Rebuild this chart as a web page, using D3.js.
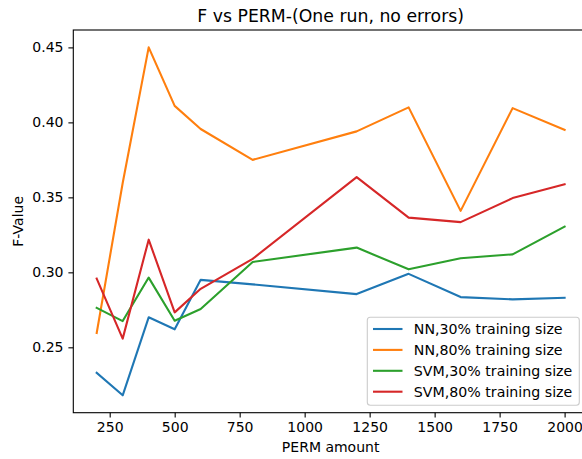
<!DOCTYPE html>
<html>
<head>
<meta charset="utf-8">
<script src="https://cdn.jsdelivr.net/npm/d3@7"></script>
<style>
  body { margin: 0; background: #fff; }
  svg { display: block; font-family: "DejaVu Sans", sans-serif; }
</style>
</head>
<body>
<svg id="Chart"></svg>
<script>
// data
let perm = [200, 300, 400, 500, 600, 800, 1200, 1400, 1600, 1800, 2000]
let nn30 = [0.233, 0.218, 0.270, 0.262, 0.295, 0.292, 0.2855, 0.299, 0.2835, 0.282, 0.283]
let nn80 = [0.2596, 0.3596, 0.450, 0.411, 0.3956, 0.375, 0.394, 0.410, 0.341, 0.4095, 0.395]
let svm30 = [0.2763, 0.2675, 0.2965, 0.2677, 0.2755, 0.3069, 0.3165, 0.302, 0.3094, 0.312, 0.3305]
let svm80 = [0.2958, 0.2558, 0.3218, 0.2733, 0.289, 0.309, 0.3635, 0.3365, 0.3335, 0.3495, 0.3587]
let seriesNames = ["NN,30% training size", "NN,80% training size", "SVM,30% training size", "SVM,80% training size"]
let seriesColors = ["#1f77b4", "#ff7f0e", "#2ca02c", "#d62728"]
let xTicks = [250, 500, 750, 1000, 1250, 1500, 1750, 2000]
let yTicks = [0.25, 0.30, 0.35, 0.40, 0.45]

function getConfig() {
  let width = 582, height = 459
  let margin = { top: 30, left: 73.3, right: 588, bottom: 412.7 } // box edges, right one falls off the page
  let container = d3.select("#Chart").attr("width", width).attr("height", height)
  return { width, height, margin, container }
}

function getScales(config) {
  let { margin } = config
  // matplotlib adds 5% margins on each side
  let xScale = d3.scaleLinear().domain([110, 2090]).range([margin.left, margin.right])
  let yMin = 0.218, yMax = 0.45, pad = (yMax - yMin) * 0.05
  let yScale = d3.scaleLinear().domain([yMin - pad, yMax + pad]).range([margin.bottom, margin.top])
  return { xScale, yScale }
}

function drawAxes(config, scales) {
  let { container, margin } = config
  let { xScale, yScale } = scales

  let axisX = d3.axisBottom(xScale).tickValues(xTicks).tickSize(4.9).tickPadding(4.9).tickFormat(d3.format("d"))
  let gx = container.append("g")
    .attr("transform", `translate(0,${margin.bottom})`)
    .call(axisX)
  let axisY = d3.axisLeft(yScale).tickValues(yTicks).tickSize(4.9).tickPadding(4.9).tickFormat(d3.format(".2f"))
  let gy = container.append("g")
    .attr("transform", `translate(${margin.left},0)`)
    .call(axisY)

  ;[gx, gy].forEach(g => {
    g.select(".domain").remove()
    g.selectAll("line").attr("stroke", "#000").attr("stroke-width", 1.1)
    g.selectAll("text").attr("fill", "#000").style("font-size", "14px").style("font-family", "DejaVu Sans")
  })

  // spines
  container.append("rect")
    .attr("x", margin.left).attr("y", margin.top)
    .attr("width", margin.right - margin.left).attr("height", margin.bottom - margin.top)
    .attr("fill", "none").attr("stroke", "#000").attr("stroke-width", 1.1)

  container.append("text")
    .attr("x", (margin.left + margin.right) / 2).attr("y", 452)
    .attr("text-anchor", "middle").style("font-size", "14px")
    .text("PERM amount")

  container.append("text")
    .attr("transform", `translate(23.4,${(margin.top + margin.bottom) / 2}) rotate(-90)`)
    .attr("text-anchor", "middle").style("font-size", "14px")
    .text("F-Value")

  container.append("text")
    .attr("x", (margin.left + margin.right) / 2).attr("y", 22)
    .attr("text-anchor", "middle").style("font-size", "17.3px")
    .text("F vs PERM-(One run, no errors)")
}

function drawLines(config, scales) {
  let { container, margin } = config
  let { xScale, yScale } = scales
  container.append("clipPath").attr("id", "plotClip")
    .append("rect")
    .attr("x", margin.left).attr("y", margin.top)
    .attr("width", margin.right - margin.left).attr("height", margin.bottom - margin.top)

  let line = d3.line().x(d => xScale(d[0])).y(d => yScale(d[1]))
  let all = [nn30, nn80, svm30, svm80]
  container.append("g").attr("clip-path", "url(#plotClip)")
    .selectAll("path")
    .data(all)
    .enter().append("path")
    .attr("d", vals => line(vals.map((v, i) => [perm[i], v])))
    .attr("fill", "none")
    .attr("stroke", (d, i) => seriesColors[i])
    .attr("stroke-width", 2.1)
    .attr("stroke-linejoin", "round")
    .attr("stroke-linecap", "square")
}

function drawLegend(config) {
  let { container } = config
  let legend = container.append("g")
  legend.append("rect")
    .attr("x", 367.3).attr("y", 317.3).attr("width", 212).attr("height", 88)
    .attr("rx", 3).attr("fill", "#fff").attr("fill-opacity", 0.8)
    .attr("stroke", "#cccccc").attr("stroke-width", 1.1)

  let rows = legend.selectAll(".row").data(seriesNames)
    .enter().append("g")
    .attr("transform", (d, i) => `translate(0,${329 + i * 20.9})`)
  rows.append("line")
    .attr("x1", 373).attr("x2", 402.5).attr("y1", 0).attr("y2", 0)
    .attr("stroke", (d, i) => seriesColors[i]).attr("stroke-width", 2.1)
  rows.append("text")
    .attr("x", 413.8).attr("y", 5.2)
    .style("font-size", "14.2px")
    .text(d => d)
}

function drawChart() {
  let config = getConfig()
  let scales = getScales(config)
  drawLines(config, scales)
  drawAxes(config, scales)
  drawLegend(config)
}

drawChart()
</script>
</body>
</html>
